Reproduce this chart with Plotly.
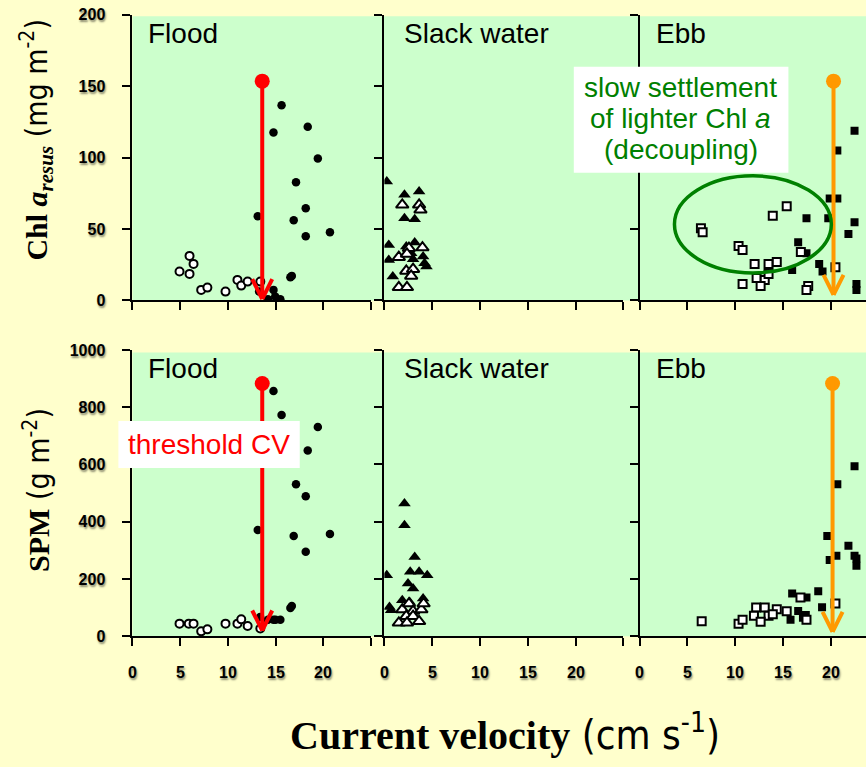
import plotly.graph_objects as go

W, H = 866, 767

# ---------------- data ----------------
# Chl a (mg m-2), Flood
flood_chl_open_x = [4.93, 5.98, 6.4, 5.98, 7.2, 7.85, 9.75, 11.0, 11.4, 12.07, 13.4]
flood_chl_open_y = [20.2, 31.2, 25.6, 18.6, 7.4, 9.0, 6.2, 14.4, 10.4, 13.2, 13.2]
flood_chl_fill_x = [15.63, 14.78, 18.37, 19.43, 17.14, 18.16, 16.9, 18.16, 20.7, 13.13, 16.55, 16.7, 13.27, 14.78, 14.2, 14.96, 15.5]
flood_chl_fill_y = [136.7, 117.5, 121.5, 99.3, 82.8, 64.6, 56.2, 45.0, 47.8, 59.0, 16.2, 17.2, 6.2, 7.4, 0.8, 2.7, 0.8]
# Chl a, Slack water
slack_chl_fill_x = [0.25, 2.1, 3.63, 2.1, 3.17, 0.46, 0.46, 0.88, 2.29, 3.17, 2.8, 4.05, 4.4, 4.2, 3.0]
slack_chl_fill_y = [83.2, 73.9, 76.2, 57.6, 56.9, 38.9, 28.4, 16.7, 37.7, 40.5, 33.1, 30.7, 23.7, 26.0, 28.9]
slack_chl_open_x = [1.87, 3.63, 3.77, 2.57, 3.98, 1.51, 2.36, 2.29, 3.0, 2.8, 1.51, 2.36]
slack_chl_open_y = [66.9, 66.9, 63.4, 36.6, 37.0, 30.3, 32.6, 20.7, 21.9, 17.2, 9.2, 9.2]
# Chl a, Ebb
ebb_chl_open_x = [6.42, 6.6, 15.4, 13.94, 10.36, 10.78, 12.04, 13.5, 14.36, 16.88, 12.25, 13.1, 13.5, 12.67, 10.78, 17.65, 17.47, 20.5]
ebb_chl_open_y = [50.6, 47.8, 66.0, 59.2, 38.2, 35.4, 25.6, 25.6, 27.0, 34.0, 15.8, 14.4, 18.6, 10.2, 11.6, 10.2, 7.4, 23.3]
ebb_chl_fill_x = [19.9, 20.7, 17.47, 19.75, 22.5, 21.86, 16.6, 17.47, 18.8, 19.15, 15.97, 22.7, 22.7, 22.5, 20.7]
ebb_chl_fill_y = [71.3, 71.3, 57.6, 57.6, 54.8, 46.6, 40.8, 33.1, 25.6, 20.2, 21.4, 11.6, 7.4, 118.7, 104.9]

# SPM (g m-2), Flood
flood_spm_fill_x = [14.78, 15.63, 19.43, 18.37, 17.14, 18.16, 13.13, 16.9, 20.7, 18.16, 16.55, 16.7, 13.38, 14.78, 15.5, 14.2, 15.0]
flood_spm_fill_y = [857, 773, 731, 649, 531, 489, 371, 350, 357, 295, 99, 106, 67, 58, 58, 58, 58]
flood_spm_open_x = [4.93, 5.9, 6.4, 7.2, 7.85, 9.75, 11.0, 11.4, 12.07, 13.4]
flood_spm_open_y = [44, 44, 44, 17, 24, 44, 44, 59, 36, 27]
# SPM, Slack water
slack_spm_fill_x = [2.1, 2.1, 3.17, 0.25, 2.7, 3.63, 4.48, 2.47, 3.0, 0.53, 0.7, 1.87, 4.05, 2.64]
slack_spm_fill_y = [464, 388, 277, 213, 225, 225, 213, 184, 167, 102, 91, 126, 132, 120]
slack_spm_open_x = [1.87, 2.57, 3.0, 3.87, 4.1, 2.29, 3.0, 1.51, 2.36, 3.63]
slack_spm_open_y = [93, 114, 88, 93, 114, 70, 70, 47, 47, 52]
# SPM, Ebb
ebb_spm_fill_x = [20.7, 19.65, 21.86, 20.6, 19.9, 22.5, 22.7, 22.7, 15.97, 17.47, 18.7, 19.1, 16.6, 15.8, 17.4, 17.1, 22.5]
ebb_spm_fill_y = [531, 350, 316, 281, 266, 281, 272, 246, 149, 135, 157, 101, 88, 58, 74, 65, 594]
ebb_spm_open_x = [6.5, 10.36, 10.78, 12.2, 13.1, 11.97, 13.5, 12.67, 14.36, 13.94, 15.4, 16.84, 17.47, 20.5]
ebb_spm_open_y = [52, 44, 58, 100, 100, 72, 72, 51, 94, 77, 87, 135, 58, 114]

# threshold current velocity arrows: [x, y_top, y_tip]
flood_thr_chl = [13.6, 153.5, 1.0]
flood_thr_spm = [13.6, 883, 20]
ebb_thr_chl = [20.3, 153.5, 3.9]
ebb_thr_spm = [20.2, 883, 15]

panel_names = ["Flood", "Slack water", "Ebb"]
x_tickvals = [0, 5, 10, 15, 20, 25]
x_labelvals = [0, 5, 10, 15, 20]
x_ticktext = ["0", "5", "10", "15", "20"]
chl_ticks = [0, 50, 100, 150, 200]
spm_ticks = [0, 200, 400, 600, 800, 1000]

# ---------------- layout helpers ----------------
# the photographed page shows the figure slightly inset; map target pixels to paper fractions
SX, OX = 0.9925, 3.5
SY, OY = 0.977, 8.3

def px(x):
    return min(1.0, max(0.0, ((x - OX) / SX) / W))

def py(y):
    return min(1.0, max(0.0, 1 - ((y - OY) / SY) / H))

PAPER = "#FFFFCC"
GREEN_BG = "#CCFFCC"
SANS = "Liberation Sans, Arial, sans-serif"
NARROW = "Liberation Sans Narrow, DejaVu Sans Condensed, Liberation Sans, sans-serif"
SHADOW = "1px 2px 2px rgba(0,0,0,0.45)"

fig = go.Figure()

def add_pts(x, y, xa, ya, symbol, filled, size):
    fig.add_trace(go.Scatter(
        x=x, y=y, xaxis=xa, yaxis=ya, mode="markers", hoverinfo="skip",
        marker=dict(symbol=symbol, size=size,
                    color="black" if filled else "white",
                    line=dict(color="black", width=0 if filled else 2))))

# top row
add_pts(flood_chl_open_x, flood_chl_open_y, "x", "y", "circle", False, 8)
add_pts(flood_chl_fill_x, flood_chl_fill_y, "x", "y", "circle", True, 8.5)
add_pts(slack_chl_fill_x, slack_chl_fill_y, "x2", "y2", "triangle-up", True, 11)
add_pts(slack_chl_open_x, slack_chl_open_y, "x2", "y2", "triangle-up", False, 11)
add_pts(ebb_chl_fill_x, ebb_chl_fill_y, "x3", "y3", "square", True, 8)
add_pts(ebb_chl_open_x, ebb_chl_open_y, "x3", "y3", "square", False, 8)
# bottom row
add_pts(flood_spm_open_x, flood_spm_open_y, "x4", "y4", "circle", False, 8)
add_pts(flood_spm_fill_x, flood_spm_fill_y, "x4", "y4", "circle", True, 8.5)
add_pts(slack_spm_fill_x, slack_spm_fill_y, "x5", "y5", "triangle-up", True, 11)
add_pts(slack_spm_open_x, slack_spm_open_y, "x5", "y5", "triangle-up", False, 11)
add_pts(ebb_spm_fill_x, ebb_spm_fill_y, "x6", "y6", "square", True, 8)
add_pts(ebb_spm_open_x, ebb_spm_open_y, "x6", "y6", "square", False, 8)

# threshold dots
for thr, xa, ya, col in [(flood_thr_chl, "x", "y", "#FF0000"), (flood_thr_spm, "x4", "y4", "#FF0000"),
                         (ebb_thr_chl, "x3", "y3", "#FF9900"), (ebb_thr_spm, "x6", "y6", "#FF9900")]:
    fig.add_trace(go.Scatter(x=[thr[0]], y=[thr[1]], xaxis=xa, yaxis=ya, mode="markers",
                             hoverinfo="skip", marker=dict(size=15, color=col)))

shapes = []
# green backgrounds (continuous across panels)
shapes.append(dict(type="rect", xref="paper", yref="paper", x0=px(135), x1=1, y0=py(300.5), y1=py(16.5),
                   fillcolor=GREEN_BG, line=dict(width=0), layer="below"))
shapes.append(dict(type="rect", xref="paper", yref="paper", x0=px(135), x1=1, y0=py(636), y1=py(352.5),
                   fillcolor=GREEN_BG, line=dict(width=0), layer="below"))

# arrows
for thr, xa, ya, col in [(flood_thr_chl, "x", "y", "#FF0000"), (flood_thr_spm, "x4", "y4", "#FF0000"),
                         (ebb_thr_chl, "x3", "y3", "#FF9900"), (ebb_thr_spm, "x6", "y6", "#FF9900")]:
    shapes.append(dict(type="line", xref=xa, yref=ya, x0=thr[0], x1=thr[0], y0=thr[1], y1=thr[2],
                       line=dict(color=col, width=4), layer="above"))
    for dx in (-10, 10):
        shapes.append(dict(type="line", xref=xa, yref=ya, xsizemode="pixel", ysizemode="pixel",
                           xanchor=thr[0], yanchor=thr[2], x0=0, x1=dx, y0=0, y1=20,
                           line=dict(color=col, width=4), layer="above"))

# ellipse (decoupling)
shapes.append(dict(type="circle", xref="x3", yref="y3", x0=3.65, x1=20.07, y0=19.3, y1=87.2,
                   line=dict(color="#008000", width=3.5), layer="above"))
# white text boxes
shapes.append(dict(type="rect", xref="paper", yref="paper", x0=px(573), x1=px(786), y0=py(173), y1=py(67),
                   fillcolor="white", line=dict(width=0), layer="above"))
shapes.append(dict(type="rect", xref="paper", yref="paper", x0=px(121), x1=px(301), y0=py(468), y1=py(421),
                   fillcolor="white", line=dict(width=0), layer="above"))

annotations = []
def ann(text, x, y, size, color="black", family=SANS, xanchor="left", angle=0):
    annotations.append(dict(text=text, x=px(x), y=py(y), xref="paper", yref="paper", showarrow=False,
                            xanchor=xanchor, yanchor="middle", textangle=angle,
                            font=dict(size=size, color=color, family=family)))

# panel labels
for name, lx in zip(panel_names, [148, 402, 653]):
    ann(name, lx, 34, 28)
    ann(name, lx, 368, 28)

ann("slow settlement", 679, 88, 28, "#008000", xanchor="center")
ann("of lighter Chl <i>a</i>", 679, 119, 28, "#008000", xanchor="center")
ann("(decoupling)", 679, 150, 28, "#008000", xanchor="center")
ann("threshold CV", 211, 444, 28, "#FF0000", xanchor="center")

# axis titles
ann('<span style="font-family:Liberation Serif"><b>Chl <i>a</i><sub><i>resus</i></sub></b></span> (mg m<sup>-2</sup>)',
    40, 140, 30, family=NARROW, xanchor="center", angle=-90)
ann('<span style="font-family:Liberation Serif"><b>SPM</b></span> (g m<sup>-2</sup>)',
    40, 490, 30, family=NARROW, xanchor="center", angle=-90)
annotations.append(dict(
    text='<span style="font-family:Liberation Serif"><b>Current velocity</b></span> (cm s<sup>-1</sup>)',
    x=px(505), y=0, xref="paper", yref="paper", showarrow=False, xanchor="center", yanchor="bottom",
    yshift=-2, font=dict(size=40, color="black", family=NARROW)))

# x tick labels of the bottom row, placed on each x axis' own scale
for xa in ["x4", "x5", "x6"]:
    for v, t in zip(x_labelvals, x_ticktext):
        annotations.append(dict(text=t, x=v, xref=xa, y=py(672), yref="paper", showarrow=False,
                                xanchor="center", yanchor="middle",
                                font=dict(family=SANS, size=16, color="black", weight="bold", shadow=SHADOW)))

tickfont = dict(family=SANS, size=16, color="black", weight="bold", shadow=SHADOW)

layout = dict(width=W, height=H, paper_bgcolor=PAPER, plot_bgcolor="rgba(0,0,0,0)",
              margin=dict(l=0, r=0, t=0, b=0, pad=0), showlegend=False,
              shapes=shapes, annotations=annotations)

# right panel ends at the picture edge (~863 px shown) -> about 23.7 cm/s
xdoms = [[px(135), px(371.7)], [px(385), px(622.3)], [px(638.3), 1.0]]
xranges = [[0, 25], [0, 25], [0, 23.7]]
ydoms = [[py(300.5), py(15)], [py(636), py(350)]]
yranges = [[0, 200], [0, 1000]]
yticks = [chl_ticks, spm_ticks]

n = 0
for r in range(2):
    for c in range(3):
        n += 1
        xk = "xaxis" if n == 1 else f"xaxis{n}"
        yk = "yaxis" if n == 1 else f"yaxis{n}"
        xref = "x" if n == 1 else f"x{n}"
        yref = "y" if n == 1 else f"y{n}"
        layout[xk] = dict(domain=xdoms[c], range=xranges[c], anchor=yref, showgrid=False, zeroline=False,
                          showline=True, linecolor="black", linewidth=2, ticks="outside", ticklen=8,
                          tickwidth=2, tickcolor="black", tickvals=x_tickvals,
                          showticklabels=False, fixedrange=True)
        layout[yk] = dict(domain=ydoms[r], range=yranges[r], anchor=xref, showgrid=False, zeroline=False,
                          showline=True, linecolor="black", linewidth=2, ticks="outside", ticklen=8,
                          tickwidth=2, tickcolor="black", tickvals=yticks[r],
                          showticklabels=(c == 0), tickfont=tickfont, ticklabelstandoff=14, fixedrange=True)

fig.update_layout(**layout)
fig.write_html("out.html", config={"displayModeBar": False},
               post_script="document.documentElement.style.margin='0';document.body.style.margin='0';"
                           "document.body.style.background='#FFFFCC';document.body.style.overflow='hidden';")
